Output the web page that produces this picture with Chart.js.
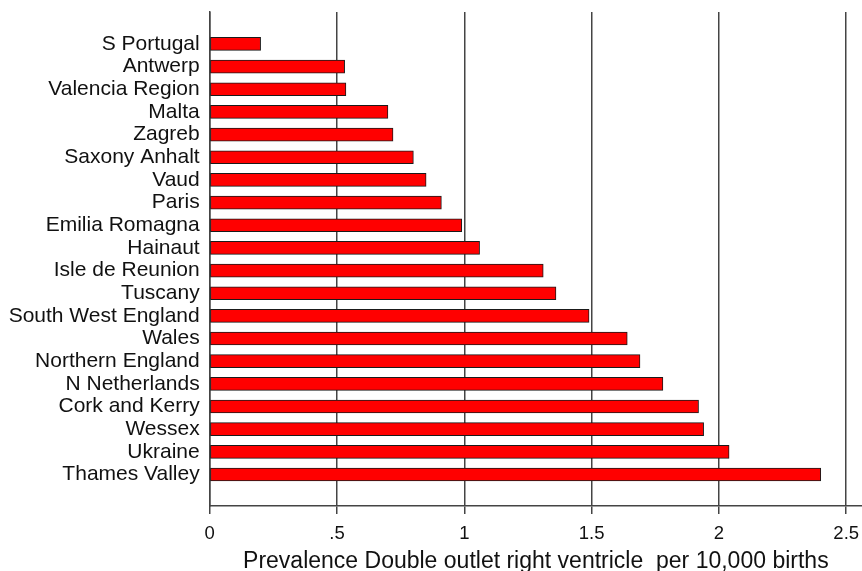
<!DOCTYPE html>
<html>
<head>
<meta charset="utf-8">
<script src="https://cdn.jsdelivr.net/npm/chart.js@4/dist/chart.umd.min.js"></script>
<style>
  html, body { margin: 0; padding: 0; background: #ffffff; }
  #wrap { width: 862px; height: 571px; position: relative; }
</style>
</head>
<body>
<div id="wrap"><canvas id="c" width="862" height="571"></canvas></div>
<script>
const categories = [
  'S Portugal', 'Antwerp', 'Valencia Region', 'Malta', 'Zagreb',
  'Saxony Anhalt', 'Vaud', 'Paris', 'Emilia Romagna', 'Hainaut',
  'Isle de Reunion', 'Tuscany', 'South West England', 'Wales',
  'Northern England', 'N Netherlands', 'Cork and Kerry', 'Wessex',
  'Ukraine', 'Thames Valley'
];
const prevalence = [
  0.20, 0.53, 0.535, 0.70, 0.72,
  0.80, 0.85, 0.91, 0.99, 1.06,
  1.31, 1.36, 1.49, 1.64,
  1.69, 1.78, 1.92, 1.94,
  2.04, 2.40
];
const xTickValues = [0, 0.5, 1, 1.5, 2, 2.5];
const xTickLabels = ['0', '.5', '1', '1.5', '2', '2.5'];
const xTitle = 'Prevalence Double outlet right ventricle  per 10,000 births';

const points = prevalence.map((v, i) => ({ x: v, y: i }));
const FONT = "'Liberation Sans', Arial, sans-serif";

function noPad(s) { s.paddingTop = 0; s.paddingBottom = 0; s.paddingLeft = 0; s.paddingRight = 0; }

new Chart(document.getElementById('c'), {
  type: 'bar',
  data: {
    datasets: [{
      data: points,
      backgroundColor: '#ff0000',
      borderColor: '#1a1a1a',
      borderWidth: 1,
      borderSkipped: false,
      barThickness: 13
    }]
  },
  options: {
    indexAxis: 'y',
    responsive: false,
    animation: false,
    devicePixelRatio: 1,
    layout: { padding: { top: 12, right: 0, bottom: 0, left: 0 } },
    plugins: { legend: { display: false }, tooltip: { enabled: false } },
    scales: {
      x: {
        type: 'linear',
        position: 'bottom',
        min: 0,
        max: 2.562,
        offset: false,
        afterBuildTicks: (s) => { s.ticks = xTickValues.map(v => ({ value: v })); },
        afterFit: (s) => { s.height = 65; noPad(s); },
        ticks: {
          callback: (v) => { const i = xTickValues.indexOf(v); return i >= 0 ? xTickLabels[i] : ''; },
          color: '#111111',
          font: { family: FONT, size: 18.5 },
          padding: 9,
          maxRotation: 0,
          autoSkip: false
        },
        grid: {
          display: true,
          offset: false,
          color: '#444444',
          lineWidth: 1.5,
          drawTicks: true,
          tickLength: 8,
          tickColor: '#444444'
        },
        border: { display: true, color: '#444444', width: 1.5 },
        title: {
          display: true,
          text: xTitle,
          color: '#111111',
          font: { family: FONT, size: 23, lineHeight: 0.8 },
          padding: { top: 0, bottom: 0 }
        }
      },
      y: {
        type: 'linear',
        reverse: true,
        offset: false,
        min: -1.41,
        max: 20.39,
        afterBuildTicks: (s) => { s.ticks = categories.map((c, i) => ({ value: i })); },
        afterFit: (s) => { s.width = 209.7; noPad(s); },
        ticks: {
          callback: (v) => categories[v] ?? '',
          color: '#111111',
          font: { family: FONT, size: 21 },
          padding: 10,
          autoSkip: false
        },
        grid: { display: false, offset: false, drawTicks: false },
        border: { display: true, color: '#444444', width: 1.5 }
      }
    }
  }
});
</script>
</body>
</html>
